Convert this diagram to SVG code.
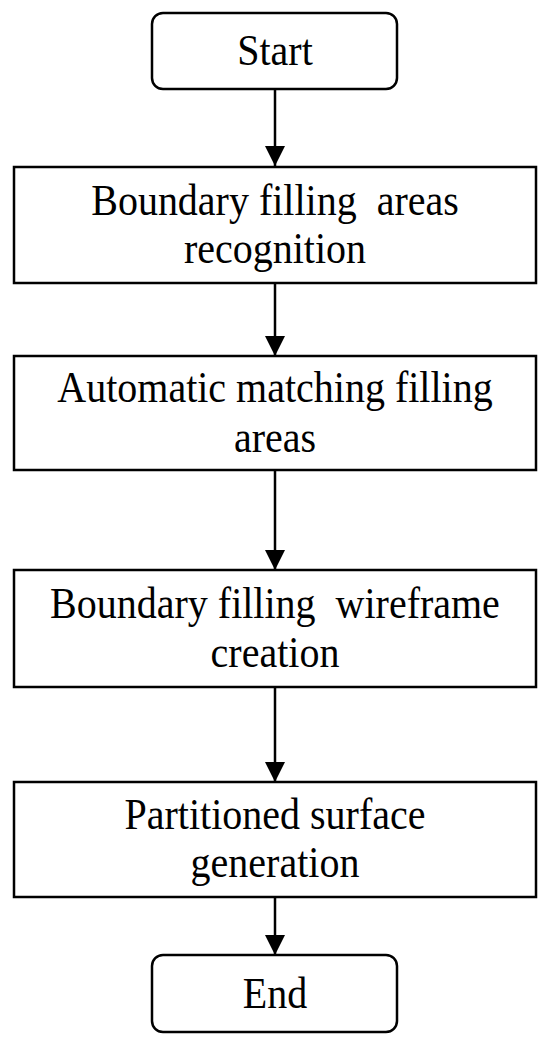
<svg xmlns="http://www.w3.org/2000/svg" width="550" height="1043" viewBox="0 0 550 1043">
<style>
.box{fill:#fff;stroke:#000;stroke-width:2.5}
.t{font-family:"Liberation Serif","Times New Roman",serif;font-size:40px;fill:#000;text-anchor:middle}
.c{stroke:#000;stroke-width:2.5;fill:none}
</style>
<defs>
<marker id="ah" markerWidth="20" markerHeight="20" viewBox="0 0 20 20" refX="20" refY="10" orient="auto" markerUnits="userSpaceOnUse">
<path d="M0,0 L20,10 L0,20 Z" fill="#000"/>
</marker>
</defs>
<rect width="550" height="1043" fill="#fff"/>
<g id="connectors">
<line class="c" x1="275" y1="89" x2="275" y2="166" marker-end="url(#ah)"/>
<line class="c" x1="275" y1="283" x2="275" y2="356" marker-end="url(#ah)"/>
<line class="c" x1="275" y1="470" x2="275" y2="570" marker-end="url(#ah)"/>
<line class="c" x1="275" y1="687" x2="275" y2="782" marker-end="url(#ah)"/>
<line class="c" x1="275" y1="897" x2="275" y2="955" marker-end="url(#ah)"/>
</g>
<g id="start">
<rect class="box" x="152" y="13" width="245" height="76" rx="11"/>
<text class="t" transform="translate(275,65) scale(1,1.09)">Start</text>
</g>
<g id="step1">
<rect class="box" x="14" y="167" width="522" height="116"/>
<text class="t" transform="translate(275,215) scale(1,1.09)" xml:space="preserve">Boundary filling  areas</text>
<text class="t" transform="translate(275,263) scale(1,1.09)">recognition</text>
</g>
<g id="step2">
<rect class="box" x="14" y="356" width="522" height="114"/>
<text class="t" transform="translate(275,402) scale(1,1.09)">Automatic matching filling</text>
<text class="t" transform="translate(275,452) scale(1,1.09)">areas</text>
</g>
<g id="step3">
<rect class="box" x="14" y="570" width="522" height="117"/>
<text class="t" transform="translate(275,618) scale(1,1.09)" xml:space="preserve">Boundary filling  wireframe</text>
<text class="t" transform="translate(275,667) scale(1,1.09)">creation</text>
</g>
<g id="step4">
<rect class="box" x="14" y="782" width="522" height="115"/>
<text class="t" transform="translate(275,829) scale(1,1.09)">Partitioned surface</text>
<text class="t" transform="translate(275,877) scale(1,1.09)">generation</text>
</g>
<g id="end">
<rect class="box" x="152" y="955" width="245" height="77" rx="11"/>
<text class="t" transform="translate(275,1008) scale(1,1.09)">End</text>
</g>
</svg>
